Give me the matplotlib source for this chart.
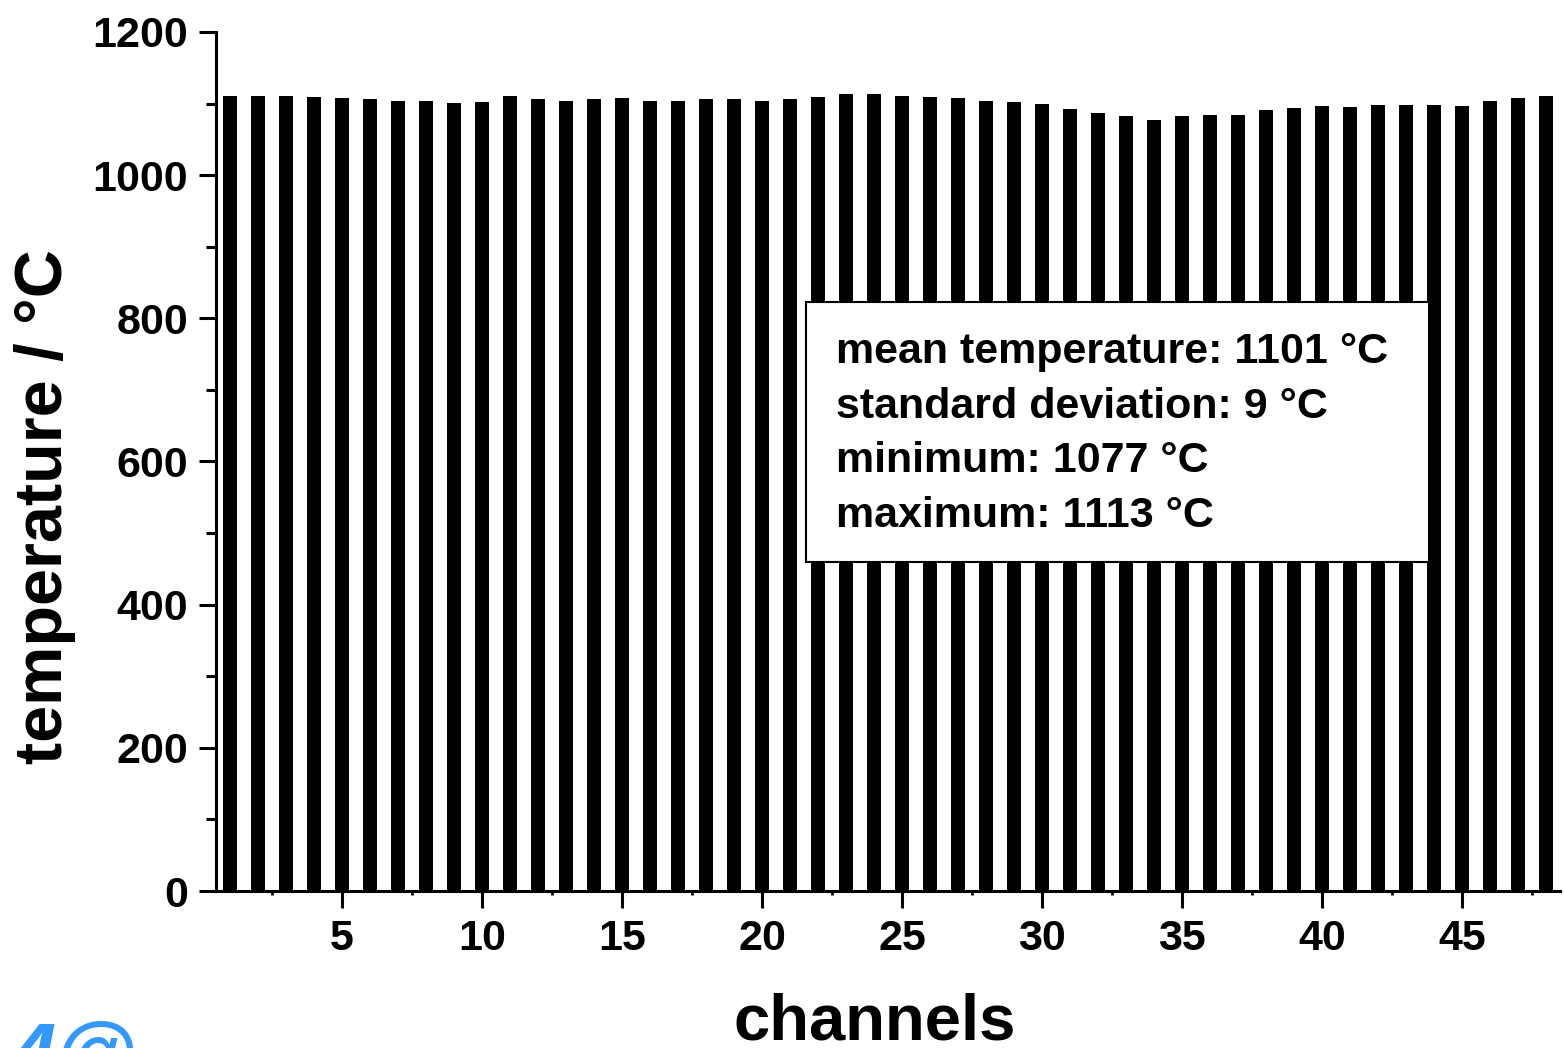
import matplotlib
matplotlib.use("Agg")
import matplotlib.pyplot as plt
from matplotlib.patches import Rectangle
from matplotlib.ticker import MultipleLocator

plt.rcParams['font.family'] = ['Liberation Sans', 'DejaVu Sans']
plt.rcParams['font.weight'] = 'bold'

# Temperature per channel (°C)
channels = list(range(1, 49))
temperatures = [
    1110, 1110, 1110, 1109, 1108, 1106, 1104, 1104, 1101, 1102,
    1110, 1106, 1104, 1106, 1108, 1104, 1104, 1106, 1106, 1104,
    1107, 1109, 1113, 1113, 1111, 1109, 1108, 1103, 1102, 1100,
    1092, 1087, 1082, 1077, 1083, 1084, 1084, 1091, 1094, 1097,
    1095, 1098, 1098, 1098, 1097, 1103, 1108, 1110,
]
x_ticks = [5, 10, 15, 20, 25, 30, 35, 40, 45]
y_ticks = [0, 200, 400, 600, 800, 1000, 1200]
stats_lines = [
    "mean temperature: 1101 °C",
    "standard deviation: 9 °C",
    "minimum: 1077 °C",
    "maximum: 1113 °C",
]

fig = plt.figure(figsize=(15.64, 10.48), dpi=100)
ax = fig.add_axes([0.1381, 0.1498, 0.8593, 0.8197])

ax.bar(channels, temperatures, width=0.5, color='black', zorder=2)

ax.set_xlim(0.5, 48.5)
ax.set_ylim(0, 1200)
ax.set_xticks(x_ticks)
ax.set_yticks(y_ticks)
ax.xaxis.set_minor_locator(MultipleLocator(2.5))
ax.yaxis.set_minor_locator(MultipleLocator(100))

for side in ('top', 'right'):
    ax.spines[side].set_visible(False)
for side in ('left', 'bottom'):
    ax.spines[side].set_linewidth(2.2)

ax.tick_params(axis='both', which='major', direction='out', length=12,
               width=2.2, labelsize=31)
ax.tick_params(axis='y', which='minor', direction='out', length=7,
               width=2.2)
ax.tick_params(axis='x', which='minor', direction='out', length=3,
               width=2.0)
ax.tick_params(axis='y', which='major', pad=8)
ax.tick_params(axis='x', which='major', pad=8)
for lbl in ax.get_xticklabels() + ax.get_yticklabels():
    lbl.set_fontweight('bold')

ax.set_xlabel("channels", fontsize=47, fontweight='bold')
ax.set_ylabel("temperature / °C", fontsize=48, fontweight='bold')
ax.xaxis.set_label_coords(0.490, -0.1176)
ax.yaxis.set_label_coords(-0.104, 0.448)

# Summary statistics box
box = Rectangle((0.439, 0.383), 0.4635, 0.3027, transform=ax.transAxes,
                facecolor='white', edgecolor='black', linewidth=1.5, zorder=5)
ax.add_patch(box)
baselines = [0.6147, 0.5506, 0.4878, 0.4237]
for line, yb in zip(stats_lines, baselines):
    ax.text(0.4613, yb, line, transform=ax.transAxes, fontsize=31,
            fontweight='bold', va='baseline', ha='left', zorder=6)

# Logo text in the lower-left corner
fig.text(0.006, -0.032, "4@", color='#3399ff', fontsize=60,
         fontweight='bold', fontstyle='italic', ha='left', va='baseline')

fig.savefig("out.png", dpi=100)
